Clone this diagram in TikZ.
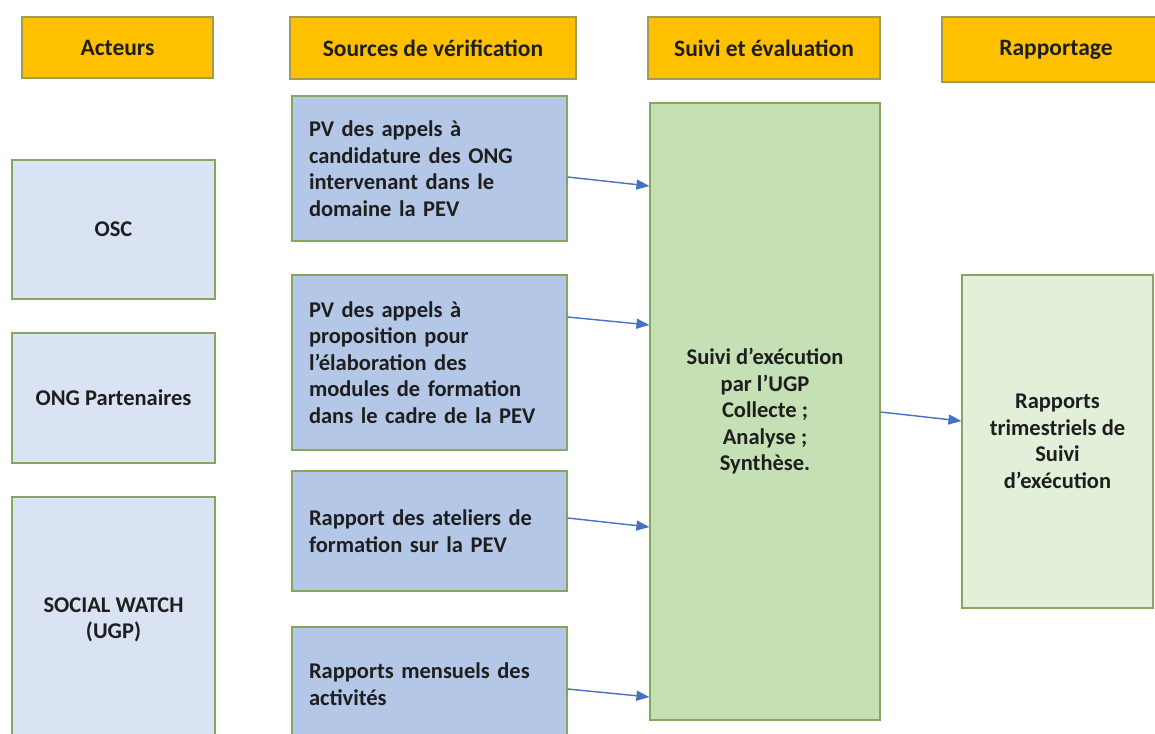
\documentclass[tikz,border=0pt]{standalone}
\usepackage{fontspec}
\setmainfont{Carlito}
\usetikzlibrary{arrows.meta,calc}

\definecolor{headorange}{HTML}{FFC000}
\definecolor{headline}{HTML}{A39B55}
\definecolor{boxline}{HTML}{86A660}
\definecolor{actorblue}{HTML}{DAE3F3}
\definecolor{sourceblue}{HTML}{B4C7E7}
\definecolor{suivigreen}{HTML}{C5E0B4}
\definecolor{rapportgreen}{HTML}{E2F0D9}
\definecolor{arrowblue}{HTML}{4472C4}
\definecolor{textdark}{HTML}{1E1E1E}

\tikzset{
  every node/.style={font=\bfseries\fontsize{22.5}{26.5}\selectfont, text=textdark},
  header/.style={draw=headline, fill=headorange, line width=1.2pt,
    font=\bfseries\fontsize{23.5}{27}\selectfont},
  actor/.style={draw=boxline, fill=actorblue, line width=1.2pt, align=center},
  source/.style={draw=boxline, fill=sourceblue, line width=1.2pt, align=left,
    text width=241pt, inner xsep=17pt},
  flow/.style={-{Triangle[length=13pt,width=10pt]}, line width=1.4pt, draw=arrowblue}
}

\begin{document}
\begin{tikzpicture}[x=1pt,y=-1pt]
\useasboundingbox (0,0) rectangle (1155,733);

% Headers
\node[header, minimum width=191, minimum height=61] (hacteurs) at (117.5,47.5) {Acteurs};
\node[header, minimum width=286, minimum height=62] (hsources) at (433,48) {Sources de vérification};
\node[header, minimum width=232, minimum height=62] (hsuivi) at (764,48) {Suivi et évaluation};
\node[header, minimum width=228, minimum height=65] (hrapport) at (1056,49.5) {Rapportage};

% Acteurs
\node[actor, minimum width=203, minimum height=139] (osc) at (113.5,229.5) {OSC};
\node[actor, minimum width=203, minimum height=130] (ong) at (113.5,398) {ONG Partenaires};
\node[actor, minimum width=203, minimum height=246] (social) at (113.5,620) {SOCIAL WATCH\\(UGP)};

% Sources de verification
\node[source, minimum height=145] (pv1) at (429.5,168.5)
  {PV des appels à\\candidature des ONG\\intervenant dans le\\domaine la PEV};
\node[source, minimum height=175] (pv2) at (429.5,362.5)
  {PV des appels à\\proposition pour\\l’élaboration des\\modules de formation\\dans le cadre de la PEV};
\node[source, minimum height=120] (ateliers) at (429.5,531)
  {Rapport des ateliers de\\formation sur la PEV};
\node[source, minimum height=114] (mensuels) at (429.5,684)
  {Rapports mensuels des\\activités};

% Suivi et evaluation
\node[draw=boxline, fill=suivigreen, line width=1.2pt, align=center,
  minimum width=230, minimum height=617] (suivi) at (765,411.5)
  {Suivi d’exécution\\par l’UGP\\Collecte ;\\Analyse ;\\Synthèse.};

% Rapportage
\node[draw=boxline, fill=rapportgreen, line width=1.2pt, align=center,
  minimum width=191, minimum height=333] (rapports) at (1057.5,441.5)
  {Rapports\\trimestriels de\\Suivi\\d’exécution};

% Arrows
\draw[flow] ($(pv1.east)+(0,8.5)$) -- ($(pv1.east -| suivi.west)+(0,17.5)$);
\draw[flow] ($(pv2.east)+(0,-45.5)$) -- ($(pv2.east -| suivi.west)+(0,-37.5)$);
\draw[flow] ($(ateliers.east)+(0,-13)$) -- ($(ateliers.east -| suivi.west)+(0,-4)$);
\draw[flow] ($(mensuels.east)+(0,5)$) -- ($(mensuels.east -| suivi.west)+(0,13)$);
\draw[flow] ($(suivi.east)+(0,0.5)$) -- ($(suivi.east -| rapports.west)+(0,9.5)$);

\end{tikzpicture}
\end{document}
